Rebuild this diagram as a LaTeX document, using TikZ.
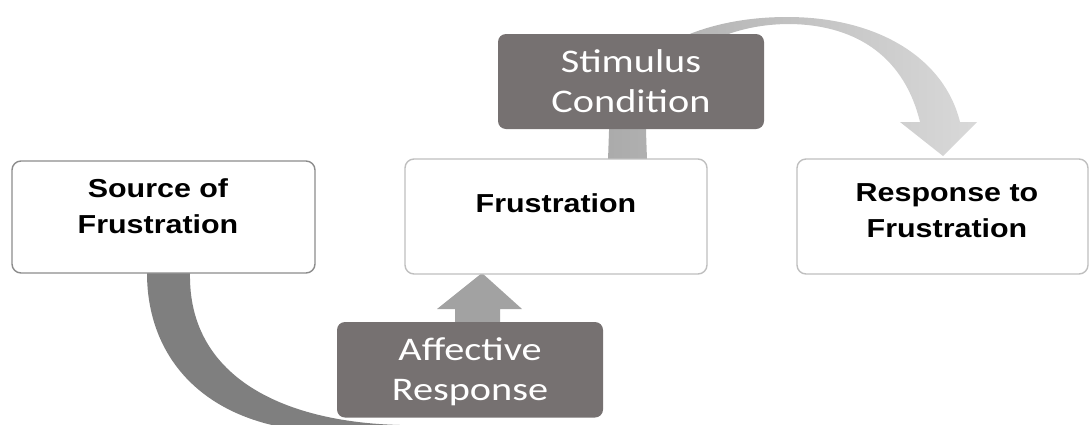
\documentclass[tikz,border=0pt]{standalone}
\usepackage{fontspec}
\newfontfamily\boxfont{Liberation Sans}[FakeStretch=1.17]
\newfontfamily\calfont{Carlito}[FakeStretch=1.22]
\usetikzlibrary{calc}
\definecolor{boxgray}{HTML}{767171}
\definecolor{bandgray}{HTML}{7F7F7F}
\definecolor{headgray}{HTML}{A2A2A2}
\definecolor{edgedark}{HTML}{8C8C8C}
\definecolor{edgelight}{HTML}{BFBFBF}
\tikzset{
  wbox/.style={draw=#1, line width=1.4pt, fill=white, rounded corners=9pt, inner sep=0pt},
  dbox/.style={fill=boxgray, rounded corners=8pt, inner sep=0pt},
  wlbl/.style={font=\boxfont\bfseries\fontsize{26}{36}\selectfont, align=center, inner sep=0pt},
  dlbl/.style={font=\calfont\fontsize{33}{40}\selectfont, text=white, align=center, inner sep=0pt}
}
\begin{document}
\begin{tikzpicture}[x=1pt,y=-1pt]
\useasboundingbox (0,0) rectangle (1089,424);
\clip (0,0) rectangle (1089,424);

% upper bent arrow: from the top of Frustration, over to Response to Frustration
\shade[left color=black!33, middle color=black!22, right color=black!15]
  (608,160) -- (609,131)
  .. controls (612,60) and (690,17) .. (787,17)
  .. controls (880,17) and (945,60) .. (960,122)
  -- (977,122) -- (943,156) -- (900,122) -- (920,122)
  .. controls (905,60) and (860,25) .. (790,24)
  .. controls (700,24) and (648,80) .. (646,131)
  -- (647,160) -- cycle;

% lower bent arrow: from Source of Frustration, under and up into Frustration
\fill[bandgray]
  (147,273) .. controls (147,355) and (200,418) .. (300,430)
  -- (400,430) -- (400,425)
  .. controls (280,422) and (188,375) .. (190,273) -- cycle;
\fill[headgray]
  (455,335) -- (455,309) -- (437,309) -- (482,273) -- (522,309)
  -- (500,309) -- (500,335) -- cycle;

% process boxes
\node[wbox=edgedark, minimum width=303pt, minimum height=112pt] (src) at (163.5,217) {};
\node[wbox=edgelight, minimum width=302pt, minimum height=115pt] (fru) at (556,216.5) {};
\node[wbox=edgelight, minimum width=291pt, minimum height=115pt] (rsp) at (942.5,216.5) {};

\node[wlbl] (src-t) at (158,206.5) {Source of\\Frustration};
\node[wlbl] (fru-t) at (556,203.5) {Frustration};
\node[wlbl] (rsp-t) at (947,210.5) {Response to\\Frustration};

% labels on the arrows
\node[dbox, minimum width=266pt, minimum height=95pt] (stim) at (631,81.5) {};
\node[dbox, minimum width=266pt, minimum height=95.5pt] (aff) at (470,369.75) {};
\node[dlbl] (stim-t) at (631,81.5) {Stimulus\\Condition};
\node[dlbl] (aff-t) at (470,371.5) {Affective\\Response};
\end{tikzpicture}
\end{document}
